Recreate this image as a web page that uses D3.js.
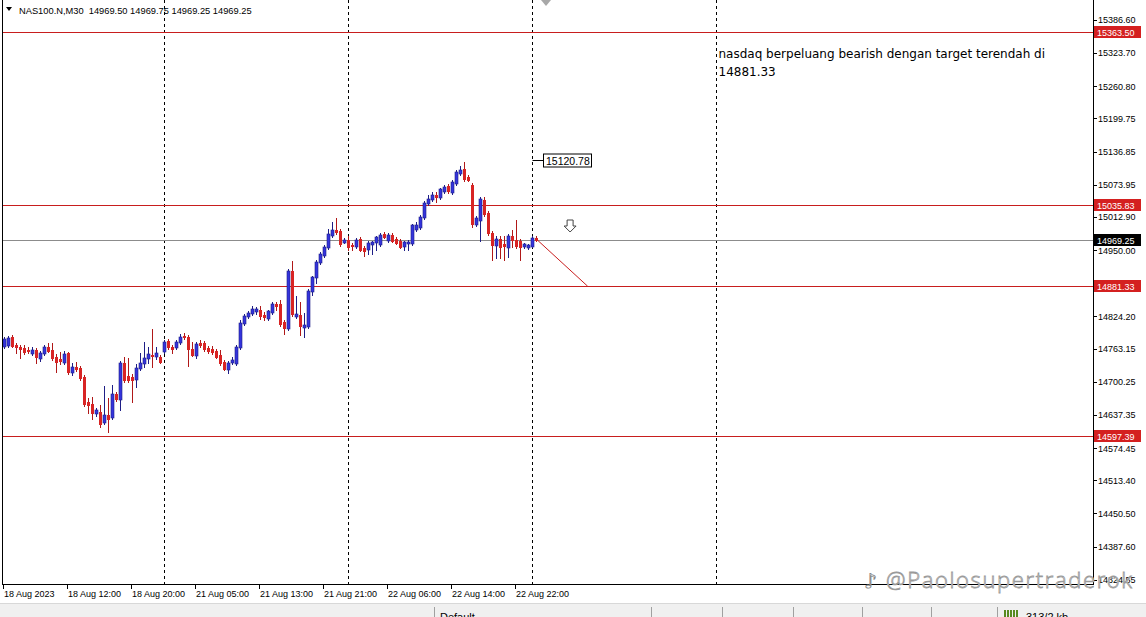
<!DOCTYPE html>
<html><head><meta charset="utf-8">
<script src="https://cdn.jsdelivr.net/npm/d3@7"></script>
<style>
html,body{margin:0;padding:0;background:#fff;overflow:hidden;}
svg{display:block;}
</style>
</head><body>
<svg id="c" width="1146" height="617"></svg>
<script>
// ---------- DATA ----------
const symbolTitle = "NAS100.N,M30";
const headerOHLC = ["14969.50", "14969.75", "14969.25", "14969.25"];

const open = [
14768.1,14770.0,14785.1,14770.0,14766.2,14764.3,14760.5,14754.8,14760.5,14745.3,
14754.8,14766.2,14760.5,14747.2,14743.4,14737.7,14754.8,14718.8,14728.2,14726.3,
14709.3,14661.9,14658.1,14641.0,14642.9,14624.0,14637.2,14633.4,14677.0,14667.5,
14735.8,14711.2,14709.3,14705.5,14726.3,14735.8,14745.3,14751.0,14749.1,14747.2,
14758.6,14777.6,14766.2,14766.2,14775.7,14787.0,14785.1,14762.4,14751.0,14773.8,
14773.8,14764.3,14762.4,14758.6,14751.0,14737.7,14724.4,14737.7,14735.8,14766.2,
14811.7,14824.9,14830.6,14834.4,14836.3,14826.8,14821.1,14832.5,14847.7,14847.7,
14813.6,14802.2,14910.3,14824.9,14826.8,14804.1,14806.0,14872.4,14898.9,14927.4,
14940.6,14955.8,14978.6,14988.1,14986.2,14965.3,14969.1,14959.6,14957.7,14971.0,
14953.9,14952.0,14961.5,14965.3,14961.5,14980.5,14969.1,14978.6,14971.0,14967.2,
14957.7,14963.4,14963.4,14989.9,14993.7,15012.7,15039.2,15046.8,15054.4,15050.6,
15062.0,15071.5,15060.1,15077.2,15096.1,15103.7,15088.5,15073.4,14999.4,15007.0,
15044.9,15020.3,14982.4,14959.6,14971.0,14961.5,14955.8,14976.7,14969.1,14967.2,
14957.7,14955.8,14957.7,14972.9];
const high = [
14785.1,14787.0,14788.9,14773.8,14770.0,14770.0,14766.2,14766.2,14764.3,14758.6,
14770.0,14773.8,14773.8,14752.9,14756.7,14758.6,14756.7,14735.8,14737.7,14730.1,
14713.1,14669.4,14671.3,14650.5,14656.2,14692.2,14669.4,14694.1,14680.8,14739.6,
14747.2,14745.3,14715.0,14733.9,14754.8,14775.7,14766.2,14800.3,14766.2,14751.0,
14779.5,14781.3,14770.0,14779.5,14790.8,14792.7,14788.9,14775.7,14775.7,14779.5,
14777.6,14768.1,14768.1,14762.4,14760.5,14741.5,14739.6,14747.2,14770.0,14817.4,
14828.7,14834.4,14843.9,14842.0,14843.9,14832.5,14836.3,14851.5,14851.5,14855.3,
14817.4,14914.1,14929.3,14862.9,14851.5,14830.6,14876.1,14900.8,14931.2,14946.3,
14959.6,14989.9,15003.2,15010.8,14989.9,14972.9,14976.7,14963.4,14972.9,14974.8,
14957.7,14967.2,14967.2,14976.7,14982.4,14984.3,14982.4,14982.4,14974.8,14971.0,
14967.2,14969.1,14999.4,15003.2,15016.5,15043.0,15054.4,15060.1,15060.1,15067.7,
15073.4,15075.3,15082.9,15101.8,15109.4,15117.0,15092.3,15077.2,15014.6,15050.6,
15050.6,15024.1,14986.2,14976.7,14976.7,14976.7,14980.5,14988.1,15007.0,14971.0,
14963.4,14961.5,14976.7,14976.7];
const low = [
14764.3,14766.2,14766.2,14754.8,14745.3,14752.9,14754.8,14751.0,14735.8,14739.6,
14751.0,14756.7,14741.5,14718.8,14733.9,14733.9,14715.0,14713.1,14720.7,14703.6,
14654.3,14641.0,14629.6,14635.3,14614.5,14620.2,14605.0,14629.6,14663.8,14646.7,
14699.8,14699.8,14661.9,14690.3,14722.6,14728.2,14735.8,14728.2,14743.4,14735.8,
14754.8,14762.4,14754.8,14762.4,14771.9,14781.3,14730.1,14749.1,14745.3,14766.2,
14758.6,14754.8,14752.9,14745.3,14732.0,14722.6,14716.9,14733.9,14732.0,14762.4,
14807.9,14821.1,14826.8,14828.7,14819.2,14817.4,14817.4,14828.7,14836.3,14806.0,
14790.8,14798.4,14824.9,14821.1,14788.9,14785.1,14802.2,14864.8,14887.5,14923.6,
14936.8,14952.0,14974.8,14980.5,14957.7,14963.4,14950.1,14950.1,14953.9,14948.2,
14938.7,14942.5,14942.5,14950.1,14957.7,14972.9,14965.3,14965.3,14961.5,14953.9,
14950.1,14950.1,14959.6,14986.2,14989.9,15008.9,15035.4,15043.0,15041.1,15046.8,
15058.2,15058.2,15056.3,15073.4,15092.3,15081.0,15081.0,14993.7,14995.6,14967.2,
15014.6,14978.6,14931.2,14934.9,14934.9,14931.2,14936.8,14955.8,14953.9,14931.2,
14953.9,14952.0,14955.8,14967.2];
const close = [
14781.3,14783.2,14768.1,14766.2,14762.4,14756.7,14758.6,14760.5,14747.2,14754.8,
14766.2,14758.6,14745.3,14737.7,14739.6,14752.9,14718.8,14728.2,14724.4,14707.4,
14658.1,14656.2,14641.0,14646.7,14620.2,14637.2,14629.6,14677.0,14667.5,14735.8,
14703.6,14703.6,14703.6,14726.3,14735.8,14745.3,14752.9,14749.1,14754.8,14737.7,
14775.7,14766.2,14762.4,14775.7,14785.1,14785.1,14762.4,14751.0,14771.9,14770.0,
14762.4,14758.6,14756.7,14747.2,14735.8,14724.4,14735.8,14741.5,14766.2,14811.7,
14824.9,14830.6,14838.2,14838.2,14824.9,14823.0,14834.4,14847.7,14843.9,14809.8,
14802.2,14910.3,14828.7,14828.7,14806.0,14807.9,14872.4,14898.9,14927.4,14942.5,
14955.8,14980.5,14988.1,14984.3,14961.5,14969.1,14955.8,14957.7,14969.1,14950.1,
14948.2,14963.4,14965.3,14974.8,14978.6,14974.8,14978.6,14967.2,14963.4,14955.8,
14965.3,14965.3,14997.5,14997.5,15012.7,15039.2,15046.8,15054.4,15050.6,15065.8,
15069.6,15062.0,15079.1,15098.0,15101.8,15084.7,15082.9,14999.4,15010.8,15046.8,
15018.4,14982.4,14959.6,14971.0,14955.8,14957.7,14976.7,14969.1,14957.7,14955.8,
14961.5,14959.6,14972.9,14969.25];

const timeLabels = ["18 Aug 2023","18 Aug 12:00","18 Aug 20:00","21 Aug 05:00","21 Aug 13:00",
                    "21 Aug 21:00","22 Aug 06:00","22 Aug 14:00","22 Aug 22:00"];
const timeLabelBars = [0,16,32,48,64,80,96,112,128];
const separatorBars = [40,86,132,178];

const priceTicks = [15386.60,15323.70,15260.80,15199.75,15136.85,15073.95,15012.90,14950.00,
                    14824.20,14763.15,14700.25,14637.35,14574.45,14513.40,14450.50,14387.60,14324.55];
const levelPrices = [15363.50,15035.83,14881.33,14597.39];
const bidPrice = 14969.25;

const highMarkPrice = 15120.78;     // price label object
const highMarkBar = 132;
const trendFrom = {bar:133.2, price:14969.1};
const trendTo   = {bar:145.8, price:14881.33};
const arrowMark = {bar:141.4, price:14995.6};
const noteLines = ["nasdaq berpeluang bearish dengan target terendah di","14881.33"];
const noteAnchor = {bar:178, price:15314.5};
const watermark = "@Paolosupertraderok";

// ---------- DRAW ----------
const svg = d3.select("#c");
const W = 1146, H = 617;
const plotRight = 1093, plotBottom = 584;
const FONT = "'Liberation Sans', Arial, sans-serif";

const x = d3.scaleLinear().domain([0,178]).range([4.5,716.5]);
const y = d3.scaleLinear().domain([14597.39,15363.50]).range([436,32]);
const cy = v => Math.round(y(v)) + 0.5;

svg.append("rect").attr("width",W).attr("height",H).attr("fill","#ffffff");

svg.append("defs").append("clipPath").attr("id","plot")
  .append("rect").attr("x",3).attr("y",0).attr("width",plotRight-3).attr("height",plotBottom);

const plot = svg.append("g").attr("clip-path","url(#plot)");

// day separators
plot.selectAll("line.sep").data(separatorBars).join("line")
  .attr("x1",d=>x(d)).attr("x2",d=>x(d)).attr("y1",0).attr("y2",plotBottom)
  .attr("stroke","#000").attr("stroke-width",1).attr("stroke-dasharray","3,3");

// horizontal levels
plot.selectAll("line.lvl").data(levelPrices).join("line")
  .attr("x1",3).attr("x2",plotRight).attr("y1",d=>cy(d)).attr("y2",d=>cy(d))
  .attr("stroke","#c81e1e").attr("stroke-width",1);

// bid line
plot.append("line").attr("x1",3).attr("x2",plotRight)
  .attr("y1",cy(bidPrice)).attr("y2",cy(bidPrice))
  .attr("stroke","#8c8c8c").attr("stroke-width",1);

// candles
const idx = d3.range(open.length);
const bullFill = "#3434dc", bullLine = "#1e1e86";
const bearFill = "#d82424", bearLine = "#b01818";
const cg = plot.append("g");
cg.selectAll("line.wick").data(idx).join("line")
  .attr("x1",i=>x(i)).attr("x2",i=>x(i))
  .attr("y1",i=>Math.round(y(high[i]))).attr("y2",i=>Math.round(y(low[i]))+1)
  .attr("stroke",i=>close[i]>=open[i]?bullLine:bearLine).attr("stroke-width",1);
cg.selectAll("rect.body").data(idx).join("rect")
  .attr("x",i=>x(i)-1.5).attr("width",3)
  .attr("y",i=>Math.round(y(Math.max(open[i],close[i]))))
  .attr("height",i=>Math.max(1,Math.round(y(Math.min(open[i],close[i])))-Math.round(y(Math.max(open[i],close[i])))+1))
  .attr("fill",i=>close[i]>=open[i]?bullFill:bearFill)
  .attr("stroke",i=>close[i]>=open[i]?bullLine:"none")
  .attr("stroke-width",0.6);

// trend line
plot.append("line")
  .attr("x1",x(trendFrom.bar)).attr("y1",y(trendFrom.price))
  .attr("x2",x(trendTo.bar)).attr("y2",y(trendTo.price))
  .attr("stroke","#c81e1e").attr("stroke-width",1);

// high mark label
const hmY = cy(highMarkPrice), hmX = x(highMarkBar);
plot.append("line").attr("x1",hmX).attr("x2",hmX+11).attr("y1",hmY).attr("y2",hmY)
  .attr("stroke","#000").attr("stroke-width",1);
plot.append("rect").attr("x",Math.round(hmX+10)+0.5).attr("y",hmY-6.5).attr("width",48).attr("height",13)
  .attr("fill","#fff").attr("stroke","#000").attr("stroke-width",1);
plot.append("text").attr("x",Math.round(hmX+10)+3).attr("y",hmY+4)
  .attr("font-family",FONT).attr("font-size",10.5).attr("fill","#000").text(highMarkPrice.toFixed(2));

// down arrow mark
const ax = x(arrowMark.bar), ay = y(arrowMark.price);
plot.append("path")
  .attr("d",`M${ax-3},${ay-6} L${ax+3},${ay-6} L${ax+3},${ay} L${ax+6},${ay} L${ax},${ay+6} L${ax-6},${ay} L${ax-3},${ay} Z`)
  .attr("fill","#fff").attr("stroke","#444").attr("stroke-width",1);

// note text
const nt = plot.append("text").attr("font-family","'DejaVu Sans', Verdana, sans-serif")
  .attr("font-size",12).attr("fill","#000");
noteLines.forEach((t,k)=>{
  nt.append("tspan").attr("x",x(noteAnchor.bar)+2).attr("y",y(noteAnchor.price)+k*18).text(t);
});

// header
svg.append("path").attr("d","M6,7 L12,7 L9,11 Z").attr("fill","#000");
svg.append("text").attr("x",19).attr("y",14).attr("font-family",FONT).attr("font-size",9.3)
  .attr("fill","#000").attr("xml:space","preserve")
  .text(symbolTitle + "  " + headerOHLC.join(" "));

// chart-shift marker
svg.append("path").attr("d","M541,0 L551,0 L546,6 Z").attr("fill","#a8a8a8");

// frame / axes
svg.append("line").attr("x1",2.5).attr("x2",2.5).attr("y1",0).attr("y2",plotBottom+0.5).attr("stroke","#000");
svg.append("line").attr("x1",plotRight+0.5).attr("x2",plotRight+0.5).attr("y1",0).attr("y2",plotBottom+0.5).attr("stroke","#000");
svg.append("line").attr("x1",2).attr("x2",plotRight+1).attr("y1",plotBottom+0.5).attr("y2",plotBottom+0.5).attr("stroke","#000");

// price axis
const ya = svg.append("g");
ya.selectAll("line").data(priceTicks).join("line")
  .attr("x1",plotRight+1).attr("x2",plotRight+4).attr("y1",d=>cy(d)).attr("y2",d=>cy(d)).attr("stroke","#000");
ya.selectAll("text").data(priceTicks).join("text")
  .attr("x",plotRight+5).attr("y",d=>y(d)+3.5)
  .attr("font-family",FONT).attr("font-size",9).attr("fill","#000")
  .text(d=>d.toFixed(2));

// level price labels
const lv = svg.append("g");
levelPrices.forEach(p=>{
  lv.append("rect").attr("x",plotRight+1).attr("y",Math.round(y(p))-6).attr("width",47).attr("height",12).attr("fill","#d42020");
  lv.append("text").attr("x",plotRight+4).attr("y",Math.round(y(p))+3.5)
    .attr("font-family",FONT).attr("font-size",9).attr("fill","#fff").text(p.toFixed(2));
});
lv.append("rect").attr("x",plotRight+1).attr("y",Math.round(y(bidPrice))-6).attr("width",47).attr("height",12).attr("fill","#000");
lv.append("text").attr("x",plotRight+4).attr("y",Math.round(y(bidPrice))+3.5)
  .attr("font-family",FONT).attr("font-size",9).attr("fill","#fff").text(bidPrice.toFixed(2));

// time axis
const xa = svg.append("g");
xa.selectAll("line").data(timeLabelBars).join("line")
  .attr("x1",d=>Math.floor(x(d))-0.5).attr("x2",d=>Math.floor(x(d))-0.5)
  .attr("y1",plotBottom+1).attr("y2",plotBottom+5).attr("stroke","#000");
xa.selectAll("text").data(timeLabels).join("text")
  .attr("x",(d,i)=>Math.floor(x(timeLabelBars[i])))
  .attr("y",597).attr("font-family",FONT).attr("font-size",9).attr("fill","#000")
  .text(d=>d);

// watermark
const wm = svg.append("g");
wm.append("text").attr("x",864).attr("y",588).attr("font-family","'DejaVu Sans', sans-serif")
  .attr("font-size",20).attr("fill","#fff").attr("stroke","#8a8a8a").attr("stroke-width",0.9).text("♪");
wm.append("text").attr("x",886).attr("y",588).attr("font-family","'Open Sans', sans-serif")
  .attr("font-weight",300).attr("font-size",22).attr("fill","#fff").attr("stroke","#9a9a9a")
  .attr("stroke-width",0.8).attr("textLength",246).text(watermark);

// status bar
const sb = svg.append("g");
sb.append("rect").attr("x",0).attr("y",603).attr("width",W).attr("height",14).attr("fill","#f0f0f0");
sb.append("line").attr("x1",0).attr("x2",W).attr("y1",603.5).attr("y2",603.5).attr("stroke","#d8d8d8");
[434,651,722,793,862,931,997].forEach(v=>{
  sb.append("line").attr("x1",v+0.5).attr("x2",v+0.5).attr("y1",607).attr("y2",617).attr("stroke","#a0a0a0");
});
sb.append("text").attr("x",440).attr("y",621).attr("font-family",FONT).attr("font-size",11).attr("fill","#000").text("Default");
[0,1,2,3,4].forEach(k=>{
  sb.append("rect").attr("x",1004+k*3).attr("y",610).attr("width",2).attr("height",7).attr("fill","#5a8a20");
});
sb.append("text").attr("x",1026).attr("y",621).attr("font-family",FONT).attr("font-size",11).attr("fill","#000").text("313/2 kb");
</script>
</body></html>
